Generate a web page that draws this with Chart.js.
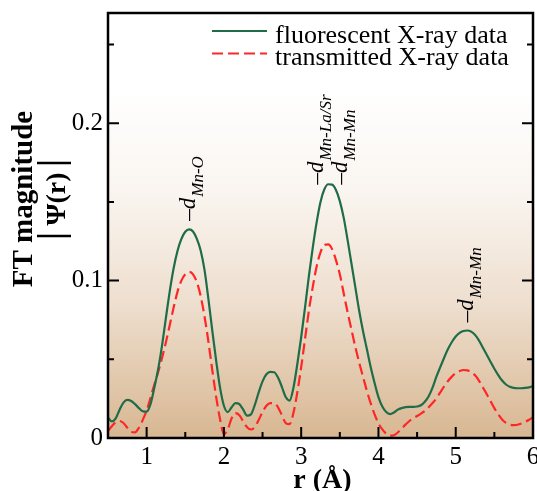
<!DOCTYPE html>
<html>
<head>
<meta charset="utf-8">
<title>FT magnitude |Ψ(r)|</title>
<script src="https://cdn.jsdelivr.net/npm/chart.js@4.4.1/dist/chart.umd.min.js"></script>
<style>
  html, body { margin: 0; padding: 0; background: #fff; }
  #wrap { width: 537px; height: 491px; overflow: hidden; }
</style>
</head>
<body>
<div id="wrap"><canvas id="ftChart" width="537" height="491"></canvas></div>
<script>
// ---------- DATA ----------
const radialDistance = [
  0.50, 0.55, 0.60, 0.65, 0.70, 0.75, 0.80, 0.85, 0.90, 0.95,
  1.00, 1.05, 1.10, 1.15, 1.20, 1.25, 1.30, 1.35, 1.40, 1.45,
  1.50, 1.55, 1.60, 1.65, 1.70, 1.75, 1.80, 1.85, 1.90, 1.95,
  2.00, 2.05, 2.10, 2.15, 2.20, 2.25, 2.30, 2.35, 2.40, 2.45,
  2.50, 2.55, 2.60, 2.65, 2.70, 2.75, 2.80, 2.85, 2.90, 2.95,
  3.00, 3.05, 3.10, 3.15, 3.20, 3.25, 3.30, 3.35, 3.40, 3.45,
  3.50, 3.55, 3.60, 3.65, 3.70, 3.75, 3.80, 3.85, 3.90, 3.95,
  4.00, 4.05, 4.10, 4.15, 4.20, 4.25, 4.30, 4.35, 4.40, 4.45,
  4.50, 4.55, 4.60, 4.65, 4.70, 4.75, 4.80, 4.85, 4.90, 4.95,
  5.00, 5.05, 5.10, 5.15, 5.20, 5.25, 5.30, 5.35, 5.40, 5.45,
  5.50, 5.55, 5.60, 5.65, 5.70, 5.75, 5.80, 5.85, 5.90, 5.95,
  6.00
];

const fluorescent = [
  0.0130, 0.0105, 0.0125, 0.0180, 0.0225, 0.0242, 0.0235, 0.0215, 0.0190, 0.0170,
  0.0167, 0.0215, 0.0320, 0.0440, 0.0590, 0.0765, 0.0935, 0.1080, 0.1190, 0.1265,
  0.1310, 0.1325, 0.1312, 0.1265, 0.1190, 0.1065, 0.0880, 0.0680, 0.0490, 0.0320,
  0.0205, 0.0165, 0.0195, 0.0222, 0.0215, 0.0180, 0.0142, 0.0150, 0.0210, 0.0290,
  0.0360, 0.0405, 0.0420, 0.0418, 0.0385, 0.0325, 0.0260, 0.0238, 0.0320, 0.0470,
  0.0640, 0.0830, 0.1030, 0.1210, 0.1370, 0.1500, 0.1580, 0.1612, 0.1610, 0.1575,
  0.1505, 0.1400, 0.1260, 0.1110, 0.0960, 0.0810, 0.0680, 0.0565, 0.0450, 0.0350,
  0.0260, 0.0200, 0.0165, 0.0152, 0.0162, 0.0180, 0.0190, 0.0196, 0.0198, 0.0198,
  0.0200, 0.0208, 0.0230, 0.0265, 0.0320, 0.0390, 0.0450, 0.0510, 0.0565, 0.0610,
  0.0645, 0.0668, 0.0680, 0.0683, 0.0676, 0.0655, 0.0620, 0.0575, 0.0530, 0.0485,
  0.0440, 0.0400, 0.0365, 0.0340, 0.0325, 0.0318, 0.0316, 0.0316, 0.0318, 0.0322,
  0.0330
];

const transmitted = [
  0.0045, 0.0075, 0.0100, 0.0108, 0.0095, 0.0065, 0.0038, 0.0036, 0.0065, 0.0115,
  0.0175, 0.0255, 0.0340, 0.0420, 0.0510, 0.0610, 0.0720, 0.0830, 0.0930, 0.1000,
  0.1040, 0.1055, 0.1040, 0.0990, 0.0900, 0.0770, 0.0610, 0.0430, 0.0260, 0.0120,
  0.0025, 0.0055, 0.0125, 0.0158, 0.0145, 0.0105, 0.0068, 0.0054, 0.0070, 0.0115,
  0.0165, 0.0205, 0.0222, 0.0222, 0.0195, 0.0145, 0.0095, 0.0088, 0.0160, 0.0290,
  0.0450, 0.0630, 0.0810, 0.0960, 0.1090, 0.1180, 0.1225, 0.1230, 0.1200, 0.1130,
  0.1040, 0.0920, 0.0800, 0.0690, 0.0580, 0.0480, 0.0390, 0.0300, 0.0220, 0.0150,
  0.0093, 0.0055, 0.0028, 0.0015, 0.0018, 0.0035, 0.0060, 0.0085, 0.0108, 0.0125,
  0.0140, 0.0155, 0.0172, 0.0195, 0.0222, 0.0252, 0.0290, 0.0328, 0.0362, 0.0390,
  0.0412, 0.0425, 0.0432, 0.0430, 0.0418, 0.0398, 0.0365, 0.0322, 0.0280, 0.0235,
  0.0190, 0.0150, 0.0118, 0.0096, 0.0085, 0.0082, 0.0084, 0.0092, 0.0103, 0.0116,
  0.0131
];

// tick positions (labels come from the scales)
const xMajorTicks = [1, 2, 3, 4, 5, 6];
const xMinorTicks = [0.5, 1.5, 2.5, 3.5, 4.5, 5.5];
const yMajorTicks = [0, 0.1, 0.2];
const yMinorTicks = [0.05, 0.15, 0.25];

// bond-distance markers: position, foot of the marker, subscript
const peakR = [1.55, 3.21, 3.51, 5.15];
const peakFoot = [0.138, 0.161, 0.161, 0.0735];
const peakSub = ['Mn-O', 'Mn-La/Sr', 'Mn-Mn', 'Mn-Mn'];

const SERIF = '"Liberation Serif", "Times New Roman", "DejaVu Serif", serif';
const GREEN = '#1f6c48';
const RED = '#ff2626';

function toPoints(ys) {
  return ys.map((y, i) => ({ x: radialDistance[i], y: y }));
}

// ---------- PLOT DECORATION ----------
const plotDecor = {
  id: 'plotDecor',
  beforeDatasetsDraw(chart) {
    const { ctx, chartArea: a } = chart;
    const g = ctx.createLinearGradient(0, a.top, 0, a.bottom);
    g.addColorStop(0, '#ffffff');
    g.addColorStop(0.18, '#ffffff');
    g.addColorStop(0.42, '#faf5f0');
    g.addColorStop(0.68, '#eedfcf');
    g.addColorStop(1, '#d8b792');
    ctx.save();
    ctx.fillStyle = g;
    ctx.fillRect(a.left, a.top, a.right - a.left, a.bottom - a.top);
    ctx.restore();
  },
  afterDatasetsDraw(chart) {
    const { ctx, chartArea: a, scales } = chart;
    const xs = scales.x, ys = scales.y;
    ctx.save();
    ctx.strokeStyle = '#000';
    ctx.lineWidth = 2;
    ctx.beginPath();
    xMajorTicks.forEach(v => {
      const px = xs.getPixelForValue(v);
      ctx.moveTo(px, a.bottom); ctx.lineTo(px, a.bottom - 11);
    });
    xMinorTicks.forEach(v => {
      const px = xs.getPixelForValue(v);
      ctx.moveTo(px, a.bottom); ctx.lineTo(px, a.bottom - 6);
    });
    yMajorTicks.forEach(v => {
      const py = ys.getPixelForValue(v);
      ctx.moveTo(a.left, py); ctx.lineTo(a.left + 11, py);
      ctx.moveTo(a.right, py); ctx.lineTo(a.right - 11, py);
    });
    yMinorTicks.forEach(v => {
      const py = ys.getPixelForValue(v);
      ctx.moveTo(a.left, py); ctx.lineTo(a.left + 6, py);
      ctx.moveTo(a.right, py); ctx.lineTo(a.right - 6, py);
    });
    ctx.stroke();

    // frame
    ctx.lineWidth = 2.5;
    ctx.strokeRect(a.left, a.top, a.right - a.left, a.bottom - a.top);
    ctx.restore();
  },
  afterDraw(chart) {
    const { ctx, chartArea: a, scales } = chart;
    const xs = scales.x, ys = scales.y;
    ctx.save();
    ctx.fillStyle = '#000';

    // peak markers, written upwards
    peakR.forEach((r, i) => {
      const px = xs.getPixelForValue(r);
      const py = ys.getPixelForValue(peakFoot[i]);
      ctx.save();
      ctx.translate(px, py);
      ctx.rotate(-Math.PI / 2);
      ctx.textAlign = 'left';
      ctx.textBaseline = 'alphabetic';
      ctx.font = 'italic 23px ' + SERIF;
      ctx.fillText('\u2013d', 0, 6);
      const w = ctx.measureText('\u2013d').width;
      ctx.font = 'italic 17px ' + SERIF;
      ctx.fillText(peakSub[i], w + 1, 14);
      ctx.restore();
    });

    // y axis title
    ctx.save();
    ctx.translate(32, 199);
    ctx.rotate(-Math.PI / 2);
    ctx.textAlign = 'center';
    ctx.textBaseline = 'alphabetic';
    ctx.font = 'bold 29px ' + SERIF;
    ctx.fillText('FT magnitude', 0, 0);
    ctx.restore();

    ctx.save();
    ctx.translate(65, 199);
    ctx.rotate(-Math.PI / 2);
    ctx.textAlign = 'center';
    ctx.textBaseline = 'alphabetic';
    ctx.font = 'bold 28px ' + SERIF;
    ctx.fillText('\u03A8(r)', 0, 0);
    ctx.restore();
    ctx.lineWidth = 2.5;
    ctx.beginPath();
    ctx.moveTo(37, 163); ctx.lineTo(71, 163);
    ctx.moveTo(37, 236); ctx.lineTo(71, 236);
    ctx.stroke();

    // x axis title
    ctx.textAlign = 'center';
    ctx.textBaseline = 'alphabetic';
    ctx.font = 'bold 28px ' + SERIF;
    ctx.fillText('r (\u00C5)', (a.left + a.right) / 2 + 2, 488);

    // legend
    ctx.font = '26px ' + SERIF;
    ctx.textAlign = 'left';
    chart.data.datasets.forEach((ds, i) => {
      const ly = 31 + i * 22.5;
      ctx.save();
      ctx.strokeStyle = ds.borderColor;
      ctx.lineWidth = ds.borderWidth;
      ctx.setLineDash(ds.borderDash || []);
      ctx.beginPath();
      ctx.moveTo(212, ly); ctx.lineTo(267, ly);
      ctx.stroke();
      ctx.restore();
      ctx.fillText(ds.label, 275, 43 + i * 22);
    });
    ctx.restore();
  }
};

// ---------- CHART ----------
const ctx = document.getElementById('ftChart').getContext('2d');
new Chart(ctx, {
  type: 'line',
  data: {
    datasets: [
      {
        label: 'fluorescent X-ray data',
        data: toPoints(fluorescent),
        borderColor: GREEN,
        borderWidth: 2.2,
        pointRadius: 0,
        cubicInterpolationMode: 'monotone',
        fill: false
      },
      {
        label: 'transmitted X-ray data',
        data: toPoints(transmitted),
        borderColor: RED,
        borderWidth: 2.2,
        borderDash: [11, 5],
        pointRadius: 0,
        cubicInterpolationMode: 'monotone',
        fill: false
      }
    ]
  },
  options: {
    responsive: false,
    animation: false,
    events: [],
    layout: { padding: { left: 0, right: 4, top: 13, bottom: 0 } },
    plugins: {
      legend: { display: false },
      tooltip: { enabled: false }
    },
    scales: {
      x: {
        type: 'linear',
        min: 0.5,
        max: 6,
        grid: { display: false, drawTicks: false },
        border: { display: false },
        ticks: {
          stepSize: 1,
          includeBounds: false,
          padding: 4,
          color: '#000',
          font: { family: SERIF, size: 25 },
          callback: v => String(v)
        },
        afterFit: scale => {
          scale.height = 53;
          scale.paddingLeft = 0;
          scale.paddingRight = 0;
        }
      },
      y: {
        type: 'linear',
        min: 0,
        max: 0.27,
        grid: { display: false, drawTicks: false },
        border: { display: false },
        ticks: {
          stepSize: 0.1,
          includeBounds: false,
          padding: 5,
          color: '#000',
          font: { family: SERIF, size: 25 },
          callback: v => (v === 0 ? '0' : v.toFixed(1))
        },
        afterFit: scale => {
          scale.width = 108;
          scale.paddingTop = 0;
          scale.paddingBottom = 0;
        }
      }
    }
  },
  plugins: [plotDecor]
});
</script>
</body>
</html>
